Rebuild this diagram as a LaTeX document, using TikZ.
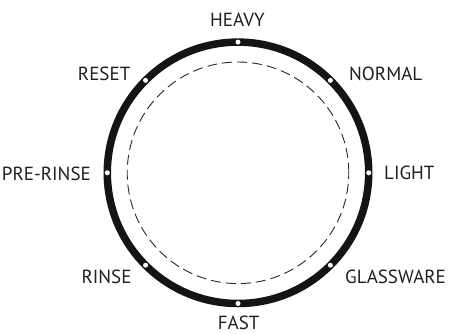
\documentclass[tikz,border=0pt]{standalone}
\usepackage{fontspec}
\setmainfont{PT Sans}
\usetikzlibrary{calc}
\begin{document}
\begin{tikzpicture}[x=1pt,y=-1pt,
  lbl/.style={inner sep=0pt, text=black!88, font=\fontsize{19}{22}\selectfont},
  dot/.style={circle, fill=white, draw=none, inner sep=0pt, minimum size=5pt}]
\useasboundingbox (0,0) rectangle (450,333);
\coordinate (c) at (238,172.8);
\draw[black!92, line width=7.5pt] (c) circle[radius=130.7pt];
\draw[black!85, line width=0.9pt, dash pattern=on 10pt off 5pt] (c) circle[radius=110.8pt];
\foreach \n/\a in {heavy/90, normal/45, light/0, glass/-45, fast/-90, rinse/-135, pre/180, reset/135}{
  \node[dot] (d\n) at ($(c)+(\a:130.7pt)$) {};
}
\node[lbl] (heavy) at (237.5,19.5) {HEAVY};
\node[lbl, anchor=west] (normal) at (349,73.7) {NORMAL};
\node[lbl, anchor=east] (reset) at (130.5,74) {RESET};
\node[lbl, anchor=east] (pre) at (91,173.8) {PRE-RINSE};
\node[lbl, anchor=west] (light) at (384,173) {LIGHT};
\node[lbl, anchor=east] (rinse) at (131.7,276.4) {RINSE};
\node[lbl, anchor=west] (glass) at (345,276.7) {GLASSWARE};
\node[lbl] (fast) at (238.7,322.6) {FAST};
\end{tikzpicture}
\end{document}
